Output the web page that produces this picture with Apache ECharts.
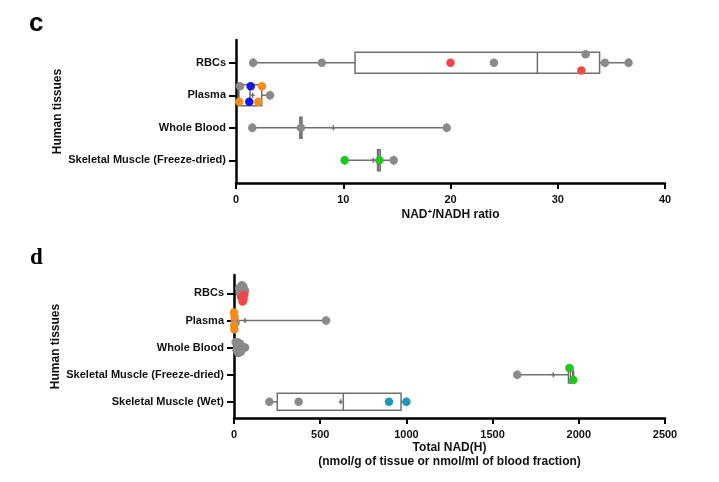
<!DOCTYPE html>
<html><head><meta charset="utf-8">
<script src="https://cdn.jsdelivr.net/npm/echarts@6/dist/echarts.min.js"></script>
<style>html,body{margin:0;padding:0;background:#fff}#c{width:719px;height:482px}</style>
</head><body><div id="c"></div>
<script>
// ---------- Panel c: NAD+/NADH ratio ----------
const catsC = ['RBCs', 'Plasma', 'Whole Blood', 'Skeletal Muscle (Freeze-dried)'];
// [categoryIndex, min, q1, median, q3, max, mean]
const boxC = [
  [0, 1.6, 11.1, 28.1, 33.9, 36.6, 24.0],
  [1, 0.25, 0.25, 1.3, 2.4, 3.17, 1.55],
  [2, 1.52, 5.95, 6.05, 6.15, 19.65, 9.07],
  [3, 10.13, 13.2, 13.3, 13.45, 14.7, 12.8]
];
// points: [value, categoryIndex, vertical jitter in category units]
const grayC = [[1.6,0,0],[8.0,0,0],[24.05,0,0],[32.6,0,-0.26],[34.4,0,0],[36.6,0,0],
  [0.37,1,-0.28],[3.17,1,0],[1.52,2,0],[6.05,2,0],[19.65,2,0],[14.7,3,0]];
const redC = [[20.0,0,0],[32.2,0,0.24]];
const orangeC = [[0.3,1,0.2],[2.42,1,-0.28],[2.08,1,0.2]];
const blueC = [[1.37,1,-0.28],[1.24,1,0.2]];
const greenC = [[10.13,3,0],[13.37,3,0]];
const ticksC = [0, 10, 20, 30, 40];

// ---------- Panel d: Total NAD(H) ----------
const catsD = ['RBCs', 'Plasma', 'Whole Blood', 'Skeletal Muscle (Freeze-dried)', 'Skeletal Muscle (Wet)'];
const boxD = [
  [0, 28, 42, 50, 58, 65, 48],
  [1, 0, 2, 6, 12, 534, 64],
  [2, 8, 15, 22, 32, 64, 28],
  [3, 1643, 1940, 1952, 1965, 1970, 1852],
  [4, 205, 251, 634, 969, 1000, 619]
];
const grayD = [[30,0,-0.2],[45,0,-0.3],[55,0,-0.25],[35,0,0],[60,0,0.05],[50,0,-0.05],[40,0,0.12],[64,0,-0.1],
  [5,1,0],[9,1,0.08],[534,1,0],
  [10,2,-0.2],[15,2,0.1],[20,2,-0.05],[25,2,0.2],[30,2,0],[35,2,-0.15],[40,2,0.15],[64,2,0],
  [1643,3,0],[205,4,0],[375,4,0]];
const redD = [[45,0,0.12],[55,0,0.22],[50,0,0.3],[58,0,0.05]];
const orangeD = [[0,1,-0.3],[2,1,0.32],[3,1,-0.15],[1,1,0.18]];
const greenD = [[1945,3,-0.25],[1968,3,0.2]];
const tealD = [[899,4,0],[1000,4,0]];
const ticksD = [0, 500, 1000, 1500, 2000, 2500];

const FONT = 'Liberation Sans';
const BOXCOL = '#707070';

function boxRender(halfUnits, capPx) {
  return function (params, api) {
    const y = api.value(0);
    const mn = api.value(1), q1 = api.value(2), md = api.value(3), q3 = api.value(4), mx = api.value(5), mean = api.value(6);
    const py = api.coord([md, y])[1];
    const X = v => api.coord([v, y])[0];
    const half = api.size([0, halfUnits])[1];
    const st = {stroke: BOXCOL, lineWidth: 1.5, fill: null};
    const L = (x1, y1, x2, y2) => ({type: 'line', shape: {x1, y1, x2, y2}, style: st});
    const xq1 = X(q1), xq3 = X(q3);
    const children = [
      L(X(mn), py, xq1, py),
      L(xq3, py, X(mx), py),
      L(X(mn), py - capPx, X(mn), py + capPx),
      L(X(mx), py - capPx, X(mx), py + capPx),
      {type: 'rect', shape: {x: xq1, y: py - half, width: Math.max(xq3 - xq1, 0.5), height: 2 * half}, style: {stroke: BOXCOL, lineWidth: 1.5, fill: 'rgba(0,0,0,0)'}},
      L(X(md), py - half, X(md), py + half),
      L(X(mean) - 2, py, X(mean) + 2, py),
      L(X(mean), py - 2.5, X(mean), py + 2.5)
    ];
    return {type: 'group', children};
  };
}

function pts(data, color, gi) {
  return {
    type: 'scatter', xAxisIndex: gi, yAxisIndex: gi, z: 5,
    symbol: 'circle', symbolSize: 8.5, itemStyle: {color: color, opacity: 1},
    data: data.map(d => [d[0], d[1] + d[2]]),
    silent: true
  };
}

function yAxisFor(cats, gi, min, max) {
  const idx = cats.map((c, i) => i);
  return {
    type: 'value', gridIndex: gi, inverse: true, min: min, max: max,
    splitLine: {show: false},
    axisLine: {show: true, onZero: false, lineStyle: {color: '#000', width: 2.5}},
    axisTick: {show: true, customValues: idx, length: 7, lineStyle: {color: '#000', width: 2}},
    axisLabel: {customValues: idx, formatter: v => cats[Math.round(v)] || '', color: '#111',
      fontFamily: FONT, fontWeight: 'bold', fontSize: 11, margin: 10},
    name: 'Human tissues', nameLocation: 'middle', nameRotate: 90, nameGap: 172,
    nameMoveOverlap: false,
    nameTextStyle: {fontFamily: FONT, fontWeight: 'bold', fontSize: 12, color: '#111'}
  };
}

function xAxisFor(gi, max, interval, name, gap, rich) {
  return {
    type: 'value', gridIndex: gi, min: 0, max: max, interval: interval,
    splitLine: {show: false},
    axisLine: {show: true, onZero: false, lineStyle: {color: '#000', width: 2.5}},
    axisTick: {show: true, length: 6, lineStyle: {color: '#000', width: 2}},
    axisLabel: {color: '#111', fontFamily: FONT, fontWeight: 'bold', fontSize: 11, margin: 11,
      formatter: v => String(v)},
    name: name, nameLocation: 'middle', nameGap: gap, nameMoveOverlap: false,
    nameTextStyle: Object.assign({fontFamily: FONT, fontWeight: 'bold', fontSize: 12, color: '#111', lineHeight: 14}, rich ? {rich: rich} : {})
  };
}

const chart = echarts.init(document.getElementById('c'), null, {renderer: 'canvas'});
chart.setOption({
  backgroundColor: '#fff',
  animation: false,
  grid: [
    {left: 236, right: 54, top: 40, bottom: 299},
    {left: 234, right: 54, top: 275, bottom: 64}
  ],
  xAxis: [
    xAxisFor(0, ticksC[ticksC.length - 1], ticksC[1] - ticksC[0], 'NAD{sup|+}/NADH ratio', 25,
      {sup: {fontFamily: FONT, fontWeight: 'bold', fontSize: 8, color: '#111', verticalAlign: 'bottom', padding: [0, 0, 6, 0]}}),
    xAxisFor(1, ticksD[ticksD.length - 1], ticksD[1] - ticksD[0], 'Total NAD(H)\n(nmol/g of tissue or nmol/ml of blood fraction)', 23)
  ],
  yAxis: [
    yAxisFor(catsC, 0, -0.7, 3.7),
    yAxisFor(catsD, 1, -0.68, 4.6)
  ],
  graphic: [
    {type: 'text', left: 29, top: 11, style: {text: 'c', fontFamily: FONT, fontWeight: 'bold', fontSize: 26, fill: '#000'}},
    {type: 'text', left: 30, top: 247, style: {text: 'd', fontFamily: 'Liberation Serif', fontWeight: 'bold', fontSize: 23, fill: '#000'}}
  ],
  series: [
    {type: 'custom', xAxisIndex: 0, yAxisIndex: 0, z: 2, silent: true,
      renderItem: boxRender(0.32, 4.5), encode: {x: [1, 2, 3, 4, 5, 6], y: 0}, data: boxC},
    {type: 'custom', xAxisIndex: 1, yAxisIndex: 1, z: 2, silent: true,
      renderItem: boxRender(0.31, 4), encode: {x: [1, 2, 3, 4, 5, 6], y: 0}, data: boxD},
    pts(grayC, '#8a8a8a', 0), pts(redC, '#ef4646', 0), pts(orangeC, '#f78c1e', 0),
    pts(blueC, '#1414e6', 0), pts(greenC, '#1ec81e', 0),
    pts(grayD, '#8a8a8a', 1), pts(redD, '#ef4646', 1), pts(orangeD, '#f78c1e', 1),
    pts(greenD, '#1ec81e', 1), pts(tealD, '#1c9ab4', 1)
  ]
});
</script></body></html>
